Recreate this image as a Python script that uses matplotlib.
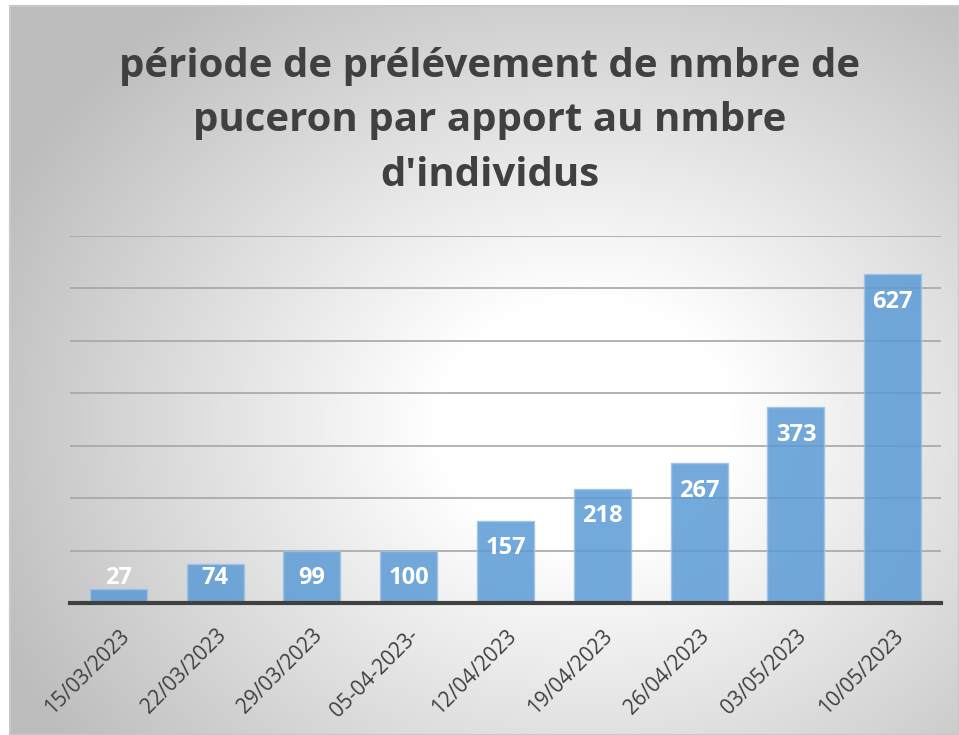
import numpy as np
import matplotlib.pyplot as plt
from matplotlib.patches import Rectangle

# données
dates = ["15/03/2023", "22/03/2023", "29/03/2023", "05-04-2023-", "12/04/2023",
         "19/04/2023", "26/04/2023", "03/05/2023", "10/05/2023"]
pucerons = [27, 74, 99, 100, 157, 218, 267, 373, 627]
titre = "période de prélévement de nmbre de\npuceron par apport au nmbre\nd'individus"

W, H = 959, 735
fig = plt.figure(figsize=(W / 100, H / 100), dpi=100)

# fond en dégradé radial (style Excel)
bg = fig.add_axes([10 / W, 0, 1 - 10 / W, 1 - 6 / H])
yy, xx = np.mgrid[0:H, 0:W]
d = np.sqrt(((xx - 580) / 600) ** 2 + ((yy - 420) / 500) ** 2)
grad = 1 - 0.28 * np.clip(d - 0.25, 0, None) / 0.9
grad = np.clip(grad, 0.74, 1)
bg.imshow(np.dstack([grad] * 3), aspect="auto", extent=[0, 1, 0, 1])
bg.set_axis_off()
fig.patches.append(Rectangle((10 / W, 0), 1 - 10 / W, 1 - 6 / H, transform=fig.transFigure,
                             fill=False, edgecolor="#c8c8c8", linewidth=1.5))

ax = fig.add_axes([70 / W, 1 - 603 / H, (941 - 70) / W, (603 - 236) / H])
ax.patch.set_alpha(0)
x = np.arange(len(dates))
ax.bar(x, pucerons, width=0.59, color="#5B9BD5", alpha=0.85,
       edgecolor="#9DC3E6", linewidth=1, zorder=3)

ax.set_ylim(0, 700)
ax.set_xlim(-0.5, len(dates) - 0.5)
ax.set_yticks(np.arange(100, 701, 100))
ax.yaxis.grid(True, color="#a6a6a6", linewidth=1.2, zorder=1)
ax.tick_params(axis="y", left=False, labelleft=False)
ax.tick_params(axis="x", length=0, pad=16)
for s in ["top", "right", "left"]:
    ax.spines[s].set_visible(False)
ax.spines["bottom"].set_color("#404040")
ax.spines["bottom"].set_linewidth(3)
ax.spines["bottom"].set_zorder(4)

ax.set_xticks(x)
ax.set_xticklabels(dates, rotation=45, ha="right", rotation_mode="anchor",
                   fontsize=15, color="#404040", family="Open Sans")

# étiquettes de valeurs
for xi, v in zip(x, pucerons):
    ax.text(xi, max(v - 53, 48), str(v), ha="center", va="center", color="white",
            fontsize=17, fontweight="bold", family="Open Sans", zorder=5)

fig.text(490 / W, 1 - 121 / H, titre, ha="center", va="center", fontsize=29,
         fontweight="bold", color="#404040", family="Open Sans", linespacing=1.5)

fig.savefig("out.png", dpi=100)
